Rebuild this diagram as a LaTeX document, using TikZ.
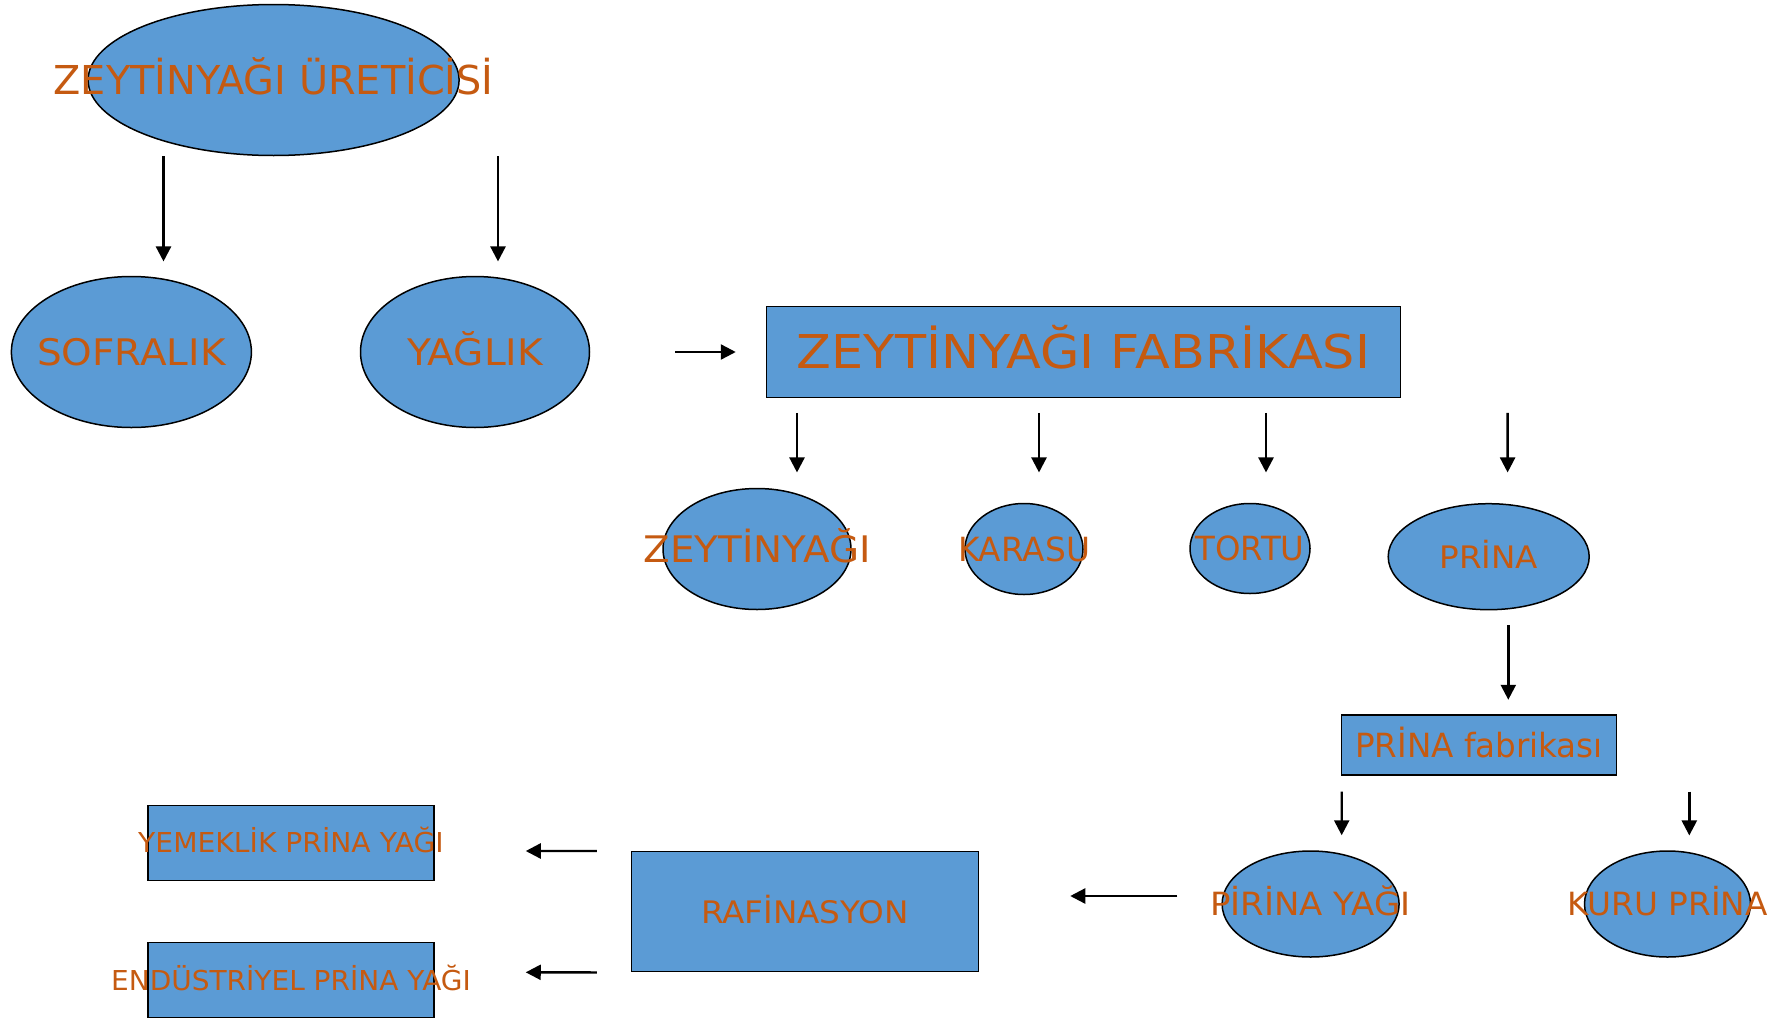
\documentclass[tikz,border=0pt]{standalone}
\usepackage{fontspec}
\setmainfont{DejaVu Sans}
\usepackage{graphicx}
\usetikzlibrary{shapes.geometric, arrows.meta}
\definecolor{oilblue}{HTML}{5B9BD5}
\definecolor{oiltext}{HTML}{C55A11}
% size, width, text
\newcommand{\lbl}[3]{{\fontsize{#1pt}{#1pt}\selectfont\makebox[0pt]{\smash{\raisebox{-.3645em}{\resizebox{#2pt}{\height}{#3}}}}}}

\begin{document}
\begin{tikzpicture}[x=1pt,y=-1pt,->,>={Triangle[length=15pt,width=15pt]},line width=2.4pt,
oval/.style={ellipse,draw,fill=oilblue,line width=1.5pt,inner sep=0pt,text=oiltext},
box/.style={rectangle,draw,fill=oilblue,line width=1.5pt,inner sep=0pt,text=oiltext},
]
\useasboundingbox (0,0) rectangle (1785,1017);

\node [oval,minimum width=371pt,minimum height=151pt] (nA) at (273.6,80) {\lbl{39.8}{440}{ZEYTİNYAĞI ÜRETİCİSİ}};
\node [oval,minimum width=240pt,minimum height=151pt] (nB) at (131.4,352) {\lbl{36.6}{188.5}{SOFRALIK}};
\node [oval,minimum width=229pt,minimum height=151pt] (nC) at (475,352) {\lbl{36.6}{136}{YAĞLIK}};
\node [box,minimum width=634pt,minimum height=91pt] (nD) at (1083.5,352) {\lbl{46.6}{573}{ZEYTİNYAĞI FABRİKASI}};

\node [oval,minimum width=188pt,minimum height=121pt] (nE) at (757,549) {\lbl{36.6}{227}{ZEYTİNYAĞI}};
\node [oval,minimum width=118pt,minimum height=91pt] (nF) at (1024,549) {\lbl{33.3}{132}{KARASU}};
\node [oval,minimum width=120pt,minimum height=90pt] (nG) at (1250,548.5) {\lbl{33.3}{109}{TORTU}};
\node [oval,minimum width=201pt,minimum height=106pt] (nH) at (1488.7,556.7) {\lbl{31}{98.6}{PRİNA}};

\node [box,minimum width=275pt,minimum height=60pt] (nI) at (1479,745) {\lbl{33.3}{247.7}{PRİNA fabrikası}};
\node [oval,minimum width=177pt,minimum height=106pt] (nJ) at (1310.6,904) {\lbl{32}{200.6}{PİRİNA YAĞI}};
\node [oval,minimum width=166pt,minimum height=106pt] (nK) at (1667.5,904) {\lbl{32}{200.6}{KURU PRİNA}};

\node [box,minimum width=347pt,minimum height=120pt] (nL) at (805,911.7) {\lbl{31}{208}{RAFİNASYON}};
\node [box,minimum width=286pt,minimum height=75pt] (nM) at (291,843) {\lbl{27.4}{305.5}{YEMEKLİK PRİNA YAĞI}};
\node [box,minimum width=286pt,minimum height=75pt] (nN) at (291,980) {\lbl{27.4}{359.7}{ENDÜSTRİYEL PRİNA YAĞI}};

\draw ([xshift=-110.1pt]nA.south) -- ([xshift=32.1pt,yshift=14.3pt]nB.north);
\draw ([xshift=224.4pt]nA.south) -- ([xshift=23pt,yshift=14.3pt]nC.north);
\draw ([xshift=85.2pt]nC.east) -- ([xshift=-30pt]nD.west);

\draw ([xshift=-286.5pt,yshift=-14.7pt]nD.south) -- ([xshift=40pt,yshift=15.3pt]nE.north);
\draw ([xshift=-44.5pt,yshift=-14.7pt]nD.south) -- ([xshift=15pt,yshift=30.3pt]nF.north);
\draw ([xshift=182.5pt,yshift=-14.7pt]nD.south) -- ([xshift=16pt,yshift=30.3pt]nG.north);
\draw ([xshift=424.1pt,yshift=-14.7pt]nD.south) -- ([xshift=18.9pt,yshift=30.5pt]nH.north);

\draw ([xshift=19.6pt,yshift=-14.8pt]nH.south) -- ([xshift=29.3pt,yshift=14.5pt]nI.north);
\draw ([xshift=-137.3pt,yshift=-15.8pt]nI.south) -- ([xshift=31.1pt,yshift=15pt]nJ.north);
\draw ([xshift=210.3pt,yshift=-15.8pt]nI.south) -- ([xshift=21.8pt,yshift=14.8pt]nK.north);

\draw ([xshift=-44pt,yshift=8pt]nJ.west) -- ([xshift=91pt,yshift=15.7pt]nL.east);
\draw ([xshift=-34pt]nL.north west) -- ([xshift=91pt,yshift=-8pt]nM.east);
\draw ([xshift=-34pt]nL.south west) -- ([xshift=91pt,yshift=7.7pt]nN.east);

\end{tikzpicture}
\end{document}
